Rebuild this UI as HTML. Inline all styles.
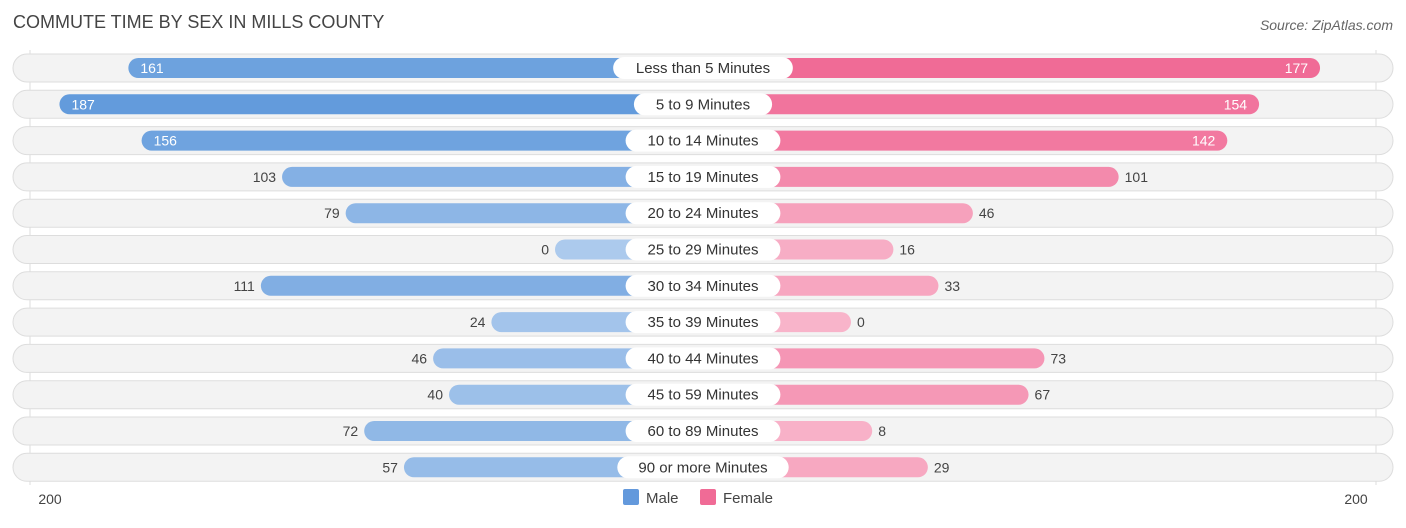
<!DOCTYPE html>
<html><head><meta charset="utf-8"><style>
body{margin:0;background:#fff;font-family:"Liberation Sans",sans-serif}
svg text{font-family:"Liberation Sans",sans-serif}
</style></head><body>
<svg id="c" width="1406" height="523">
<text x="13" y="28" font-size="18" fill="#444">COMMUTE TIME BY SEX IN MILLS COUNTY</text>
<text x="1393" y="30" font-size="14" fill="#666" font-style="italic" text-anchor="end">Source: ZipAtlas.com</text>
<line x1="30" y1="50" x2="30" y2="485" stroke="#ddd"/>
<line x1="1376" y1="50" x2="1376" y2="485" stroke="#ddd"/>
<text x="50" y="504" font-size="14" fill="#444" text-anchor="middle">200</text>
<text x="1356" y="504" font-size="14" fill="#444" text-anchor="middle">200</text>
<g>
<rect x="623" y="489" width="16" height="16" rx="2" fill="#6399dc"/>
<text x="646" y="503" font-size="15" fill="#444">Male</text>
<rect x="700" y="489" width="16" height="16" rx="2" fill="#f06b96"/>
<text x="723" y="503" font-size="15" fill="#444">Female</text>
</g>
<g id="rows"></g>
</svg>
<script>
const categories=["Less than 5 Minutes","5 to 9 Minutes","10 to 14 Minutes","15 to 19 Minutes","20 to 24 Minutes","25 to 29 Minutes","30 to 34 Minutes","35 to 39 Minutes","40 to 44 Minutes","45 to 59 Minutes","60 to 89 Minutes","90 or more Minutes"];
const maleValues=[161,187,156,103,79,0,111,24,46,40,72,57];
const femaleValues=[177,154,142,101,46,16,33,0,73,67,8,29];
const NS="http://www.w3.org/2000/svg";
const cx=703,pad=148,k=2.65,y0=68,dy=36.3;
const g=document.getElementById('rows');
function el(t,a){const e=document.createElementNS(NS,t);for(const n in a)e.setAttribute(n,a[n]);return e;}
function mix(a,b,t){return `rgb(${a.map((v,i)=>Math.round(v+(b[i]-v)*t)).join(',')})`;}
const mL=[172,202,237],mH=[99,155,220],fL=[248,180,202],fH=[240,107,150];
categories.forEach((c,i)=>{
 const y=y0+i*dy;
 const bg=el('rect',{x:13,y:y-14,width:1380,height:28,rx:14,fill:'#f3f3f3',stroke:'#ddd'});
 
 
 g.appendChild(bg);
 const m=maleValues[i],f=femaleValues[i];
 const mw=pad+m*k,fw=pad+f*k;
 const mb=el('rect',{x:cx-mw,y:y-10,width:mw,height:20,rx:10,fill:mix(mL,mH,Math.min(1,m/187))});
 
 
 g.appendChild(mb);
 const fb=el('rect',{x:cx,y:y-10,width:fw,height:20,rx:10,fill:mix(fL,fH,Math.min(1,f/177))});
 
 
 g.appendChild(fb);
 const lw=c.length*8.3+22;
 const lb=el('rect',{x:cx-lw/2,y:y-11,width:lw,height:22,rx:11,fill:'#fff'});
 
 
 g.appendChild(lb);
 const lt=el('text',{x:cx,y:y+5,'font-size':15,fill:'#333','text-anchor':'middle'});
 lt.textContent=c;
 
 
 g.appendChild(lt);
 const mIn=m>=140,fIn=f>=140;
 const mt=el('text',{x:mIn?cx-mw+12:cx-mw-6,y:y+5,'font-size':14,fill:mIn?'#fff':'#444','text-anchor':mIn?'start':'end'});
 mt.textContent=m;
 
 
 g.appendChild(mt);
 const ft=el('text',{x:fIn?cx+fw-12:cx+fw+6,y:y+5,'font-size':14,fill:fIn?'#fff':'#444','text-anchor':fIn?'end':'start'});
 ft.textContent=f;
 
 
 g.appendChild(ft);
});
</script>
</body></html>
